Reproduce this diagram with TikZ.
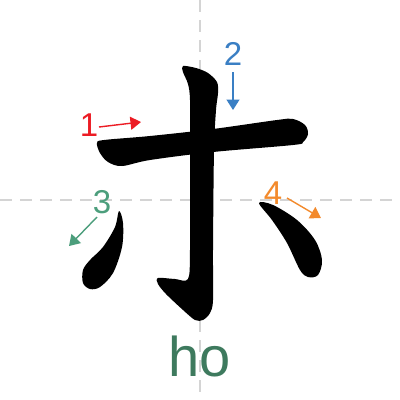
\documentclass[tikz,border=0pt]{standalone}
\usepackage{fontspec}
\setmainfont{Liberation Sans}
\usetikzlibrary{arrows.meta}
\definecolor{cred}{HTML}{EC1C24}
\definecolor{cblue}{HTML}{3A7FC4}
\definecolor{cgreen}{HTML}{4C9E7C}
\definecolor{corange}{HTML}{F38A2C}
\definecolor{cho}{HTML}{3E7A5E}
\definecolor{cgrid}{HTML}{D4D4D4}
\tikzset{
  grid/.style={cgrid, line width=2.4bp, dash pattern=on 12bp off 8bp},
  stroke/.style={fill=black, draw=none},
  num/.style={font=\fontsize{33bp}{33bp}\selectfont, inner sep=0pt},
  arr/.style={line width=1.4bp, -{Triangle[length=10.5bp,width=13bp]}},
}
\begin{document}
\begin{tikzpicture}[x=1bp,y=-1bp]
\useasboundingbox[fill=white] (0,0) rectangle (400,400);
\draw[grid] (0,200) -- (400,200);
\draw[grid] (200,0) -- (200,400);
% stroke 1
\fill[stroke] plot[smooth cycle, tension=0.55] coordinates {
 (97,143) (104,140) (150,136) (213,129) (277,120) (293,119) (305,125) (308,134)
 (303,142) (293,145) (213,152) (150,160) (122,166) (108,162) (100,153)};
% stroke 2
\fill[stroke] plot[smooth cycle, tension=0.5] coordinates {
 (183,66) (196,68) (208,73) (217,82) (218,93) (216,110) (214,150) (213,250)
 (213,300) (210,313) (203,320) (195,320) (183,310) (166,294) (158,284) (158,278)
 (175,279) (188,279) (190,250) (190,150) (190,100) (188,84) (183,72)};
% stroke 3
\fill[stroke] plot[smooth cycle, tension=0.55] coordinates {
 (119,211) (123,223) (122,247) (113,273) (100,287) (90,289) (83,283) (83,270)
 (90,260) (103,247) (115,227)};
% stroke 4
\fill[stroke] plot[smooth cycle, tension=0.55] coordinates {
 (259,203) (273,205) (297,220) (315,240) (322,260) (318,275) (308,277) (300,270)
 (287,243) (272,220)};
% numbers
\node[num, text=cred] (n1) at (89,125) {1};
\node[num, text=cblue] (n2) at (233,54) {2};
\node[num, text=cgreen] (n3) at (102,202) {3};
\node[num, text=corange] (n4) at (273,193) {4};
% arrows
\coordinate (a1s) at (99,127); \coordinate (a1e) at (141,122);
\coordinate (a2s) at (233,72); \coordinate (a2e) at (233,110);
\coordinate (a3s) at (97,217); \coordinate (a3e) at (69,246);
\coordinate (a4s) at (287,198); \coordinate (a4e) at (321,218);
\draw[arr, cred] (a1s) -- (a1e);
\draw[arr, cblue] (a2s) -- (a2e);
\draw[arr, cgreen] (a3s) -- (a3e);
\draw[arr, corange] (a4s) -- (a4e);
% reading
\node[text=cho, font=\fontsize{56bp}{56bp}\selectfont, inner sep=0pt] (ho) at (200,356) {ho};
\end{tikzpicture}
\end{document}
